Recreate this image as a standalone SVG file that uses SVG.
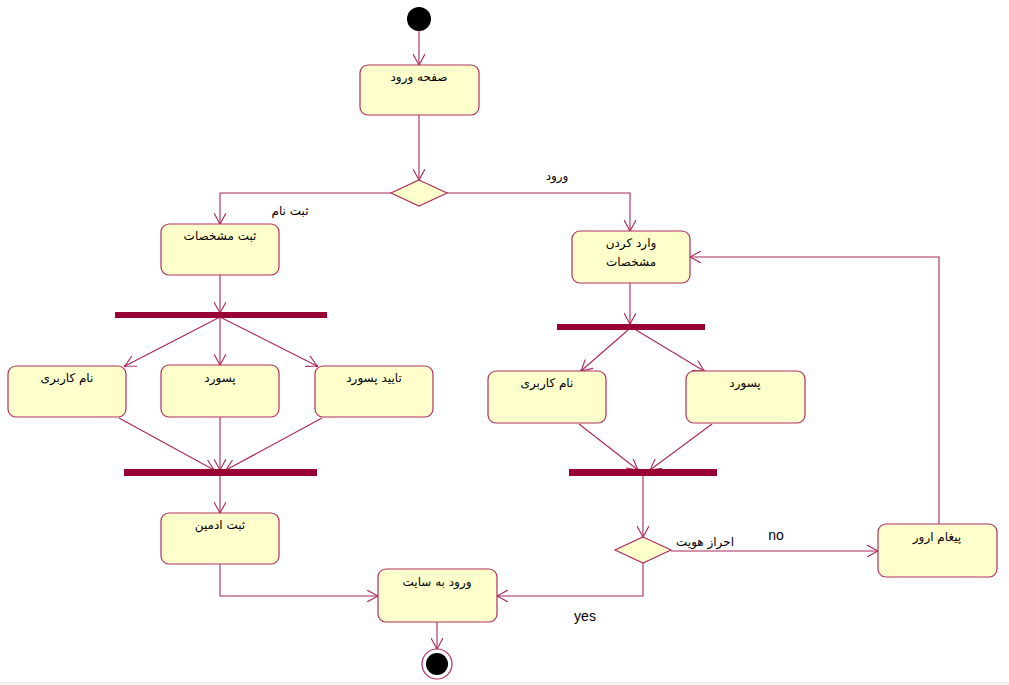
<svg xmlns="http://www.w3.org/2000/svg" width="1009" height="685" viewBox="0 0 1009 685">
  <style>
    .act rect { fill: #ffffcc; stroke: #b03060; stroke-width: 1.2; }
    .act text, .lbl { font-family: "DejaVu Sans", "Liberation Sans", sans-serif; font-size: 12px; fill: #000; }
    .bar { fill: #990033; }
    .flow { fill: none; stroke: #a8285a; stroke-width: 1.1; }
    .dec { fill: #ffffcc; stroke: #b03060; stroke-width: 1.2; }
    .en { font-family: "Liberation Sans", Arial, sans-serif; font-size: 14px; fill: #000; }
  </style>
  <defs>
    <marker id="arr" viewBox="0 0 12 12" refX="11" refY="6" markerWidth="12" markerHeight="12" markerUnits="userSpaceOnUse" orient="auto">
      <path d="M0,0 L11,6 L0,12" fill="none" stroke="#a8285a" stroke-width="1.1"/>
      <circle cx="11" cy="6" r="1.3" fill="#a8285a"/>
    </marker>
  </defs>

  <rect x="0" y="0" width="1009" height="685" fill="#fff"/>
  <rect x="0" y="682" width="1009" height="3" fill="#f2f2f2"/>

  <!-- connectors -->
  <g id="connectors" class="flow" marker-end="url(#arr)">
    <path d="M419,31 L419,65"/>
    <path d="M419,115 L419,180"/>
    <path d="M391,193 L220,193 L220,224"/>
    <path d="M447,193 L630,193 L630,231"/>
    <path d="M220,275 L220,313"/>
    <path d="M220,317 L125,366"/>
    <path d="M220,317 L220,365"/>
    <path d="M220,317 L317,366"/>
    <path d="M119,418 L214,470"/>
    <path d="M220,417 L220,470"/>
    <path d="M322,418 L226,470"/>
    <path d="M220,476 L220,513"/>
    <path d="M220,564 L220,596 L378,596"/>
    <path d="M437,622 L437,649"/>
    <path d="M630,283 L630,324"/>
    <path d="M628,330 L581,371"/>
    <path d="M636,330 L704,371"/>
    <path d="M579,424 L638,470"/>
    <path d="M712,424 L650,470"/>
    <path d="M643,476 L643,537"/>
    <path d="M671,551 L878,551"/>
    <path d="M643,563 L643,596 L497,596"/>
    <path d="M939,524 L939,257 L690,257"/>
  </g>

  <!-- connector labels -->
  <g id="labels">
    <text class="lbl" x="290" y="215" text-anchor="middle" direction="rtl">ثبت نام</text>
    <text class="lbl" x="557" y="180" text-anchor="middle" direction="rtl">ورود</text>
    <text class="lbl" x="705" y="546" text-anchor="middle" direction="rtl">احراز هویت</text>
    <text class="en" x="776" y="540" text-anchor="middle">no</text>
    <text class="en" x="585" y="621" text-anchor="middle">yes</text>
  </g>

  <!-- start / end -->
  <g id="start"><circle cx="419" cy="19" r="12" fill="#000"/></g>
  <g id="end">
    <circle cx="437" cy="664" r="15" fill="#fff" stroke="#b03060" stroke-width="1.2"/>
    <circle cx="437" cy="664" r="11" fill="#000"/>
  </g>

  <!-- decisions -->
  <g id="decision-entry"><polygon class="dec" points="419,180 447,193 419,206 391,193"/></g>
  <g id="decision-auth"><polygon class="dec" points="643,537 671,550 643,563 615,550"/></g>

  <!-- fork / join bars -->
  <g id="fork-left"><rect class="bar" x="115" y="312" width="212" height="6"/></g>
  <g id="join-left"><rect class="bar" x="124" y="469" width="193" height="7"/></g>
  <g id="fork-right"><rect class="bar" x="557" y="324" width="148" height="6"/></g>
  <g id="join-right"><rect class="bar" x="569" y="469" width="148" height="7"/></g>

  <!-- activities -->
  <g id="login-page" class="act"><rect x="360" y="65" width="119" height="50" rx="8"/><text x="419" y="81" text-anchor="middle" direction="rtl">صفحه ورود</text></g>
  <g id="register-info" class="act"><rect x="161" y="224" width="118" height="51" rx="8"/><text x="220" y="240" text-anchor="middle" direction="rtl">ثبت مشخصات</text></g>
  <g id="reg-username" class="act"><rect x="8" y="366" width="118" height="51" rx="8"/><text x="67" y="382" text-anchor="middle" direction="rtl">نام کاربری</text></g>
  <g id="reg-password" class="act"><rect x="161" y="365" width="118" height="52" rx="8"/><text x="220" y="382" text-anchor="middle" direction="rtl">پسورد</text></g>
  <g id="reg-confirm" class="act"><rect x="315" y="366" width="118" height="51" rx="8"/><text x="374" y="382" text-anchor="middle" direction="rtl">تایید پسورد</text></g>
  <g id="admin-register" class="act"><rect x="161" y="513" width="118" height="51" rx="8"/><text x="220" y="529" text-anchor="middle" direction="rtl">ثبت ادمین</text></g>
  <g id="enter-site" class="act"><rect x="378" y="569" width="119" height="53" rx="8"/><text x="437" y="586" text-anchor="middle" direction="rtl">ورود به سایت</text></g>
  <g id="enter-info" class="act"><rect x="572" y="231" width="118" height="52" rx="8"/><text x="631" y="247" text-anchor="middle" direction="rtl">وارد کردن</text><text x="631" y="266" text-anchor="middle" direction="rtl">مشخصات</text></g>
  <g id="login-username" class="act"><rect x="488" y="371" width="118" height="52" rx="8"/><text x="547" y="387" text-anchor="middle" direction="rtl">نام کاربری</text></g>
  <g id="login-password" class="act"><rect x="686" y="371" width="119" height="52" rx="8"/><text x="745" y="387" text-anchor="middle" direction="rtl">پسورد</text></g>
  <g id="error-message" class="act"><rect x="878" y="524" width="119" height="53" rx="8"/><text x="937" y="541" text-anchor="middle" direction="rtl">پیغام ارور</text></g>
</svg>
